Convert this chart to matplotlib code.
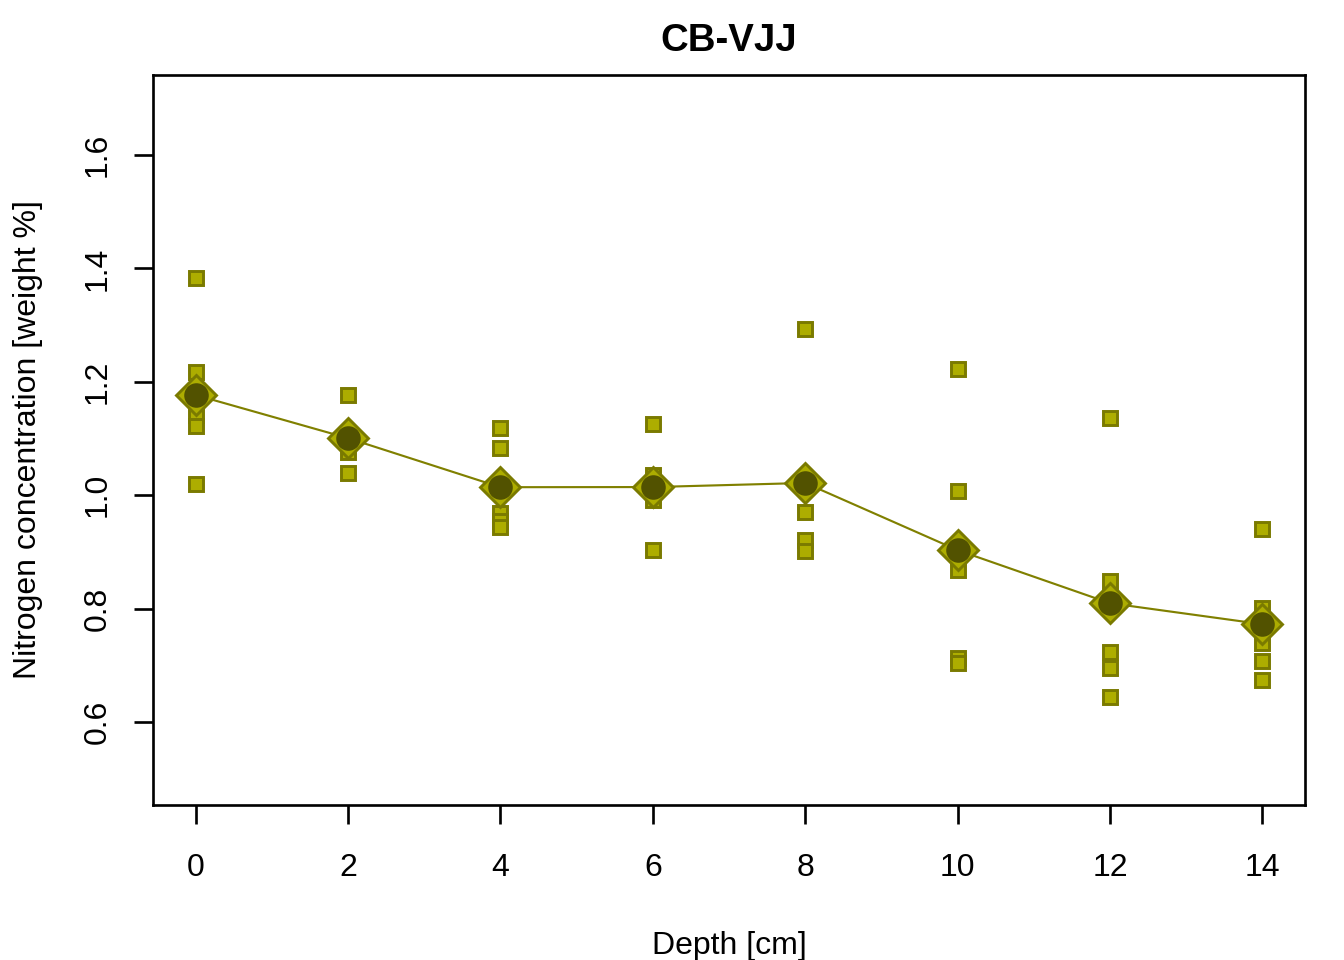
import numpy as np
import matplotlib
matplotlib.use("Agg")
import matplotlib.pyplot as plt

plt.rcParams['font.family'] = ['Liberation Sans', 'DejaVu Sans']

# depths and the individual replicate measurements at each depth
depths = [0, 2, 4, 6, 8, 10, 12, 14]
samples = [
    [1.383, 1.217, 1.141, 1.122, 1.020],
    [1.177, 1.110, 1.076, 1.039],
    [1.119, 1.083, 0.969, 0.955, 0.944],
    [1.126, 1.036, 0.992, 0.903],
    [1.293, 0.970, 0.921, 0.902],
    [1.223, 1.007, 0.868, 0.713, 0.704],
    [1.136, 0.849, 0.723, 0.695, 0.644],
    [0.940, 0.801, 0.739, 0.708, 0.674],
]
x_ticks = [0, 2, 4, 6, 8, 10, 12, 14]
y_ticks = [0.6, 0.8, 1.0, 1.2, 1.4, 1.6]

fill = "#ADAD00"
edge = "#7A7A00"
dark = "#525200"


def main() -> None:
    fig = plt.figure(figsize=(7, 5), dpi=192)
    ax = fig.add_axes([0.1138, 0.1615, 0.8572, 0.7604])

    # raw replicate points
    for d, vals in zip(depths, samples):
        ax.plot([d] * len(vals), vals, ls="none", marker="s", ms=5.6,
                mfc=fill, mec=edge, mew=1.1, zorder=2)

    means = [np.mean(v) for v in samples]
    ax.plot(depths, means, color="#808000", lw=0.8, zorder=3)
    ax.plot(depths, means, ls="none", marker="D", ms=10.6, mfc=fill,
            mec=edge, mew=1.1, zorder=4)
    ax.plot(depths, means, ls="none", marker="o", ms=8.2, mfc=dark,
            mec=dark, zorder=5)

    ax.set_xlim(-0.56, 14.56)
    ax.set_ylim(0.4536, 1.741)
    ax.set_xticks(x_ticks)
    ax.set_yticks(y_ticks)
    ax.set_xticklabels([str(t) for t in x_ticks], fontsize=12)
    ax.set_yticklabels([f"{t:.1f}" for t in y_ticks], fontsize=12,
                       rotation=90, va="center")
    ax.tick_params(direction="out", length=7, width=1)
    ax.tick_params(axis="x", pad=11)
    ax.tick_params(axis="y", pad=8)
    for s in ax.spines.values():
        s.set_linewidth(1)

    ax.set_title("CB-VJJ", fontsize=14.4, fontweight="bold", pad=9)
    ax.set_xlabel("Depth [cm]", fontsize=12, labelpad=18)
    ax.set_ylabel("Nitrogen concentration [weight %]", fontsize=12,
                  labelpad=15)

    fig.savefig("out.png", dpi=192)
    plt.close(fig)


if __name__ == '__main__':
    main()
